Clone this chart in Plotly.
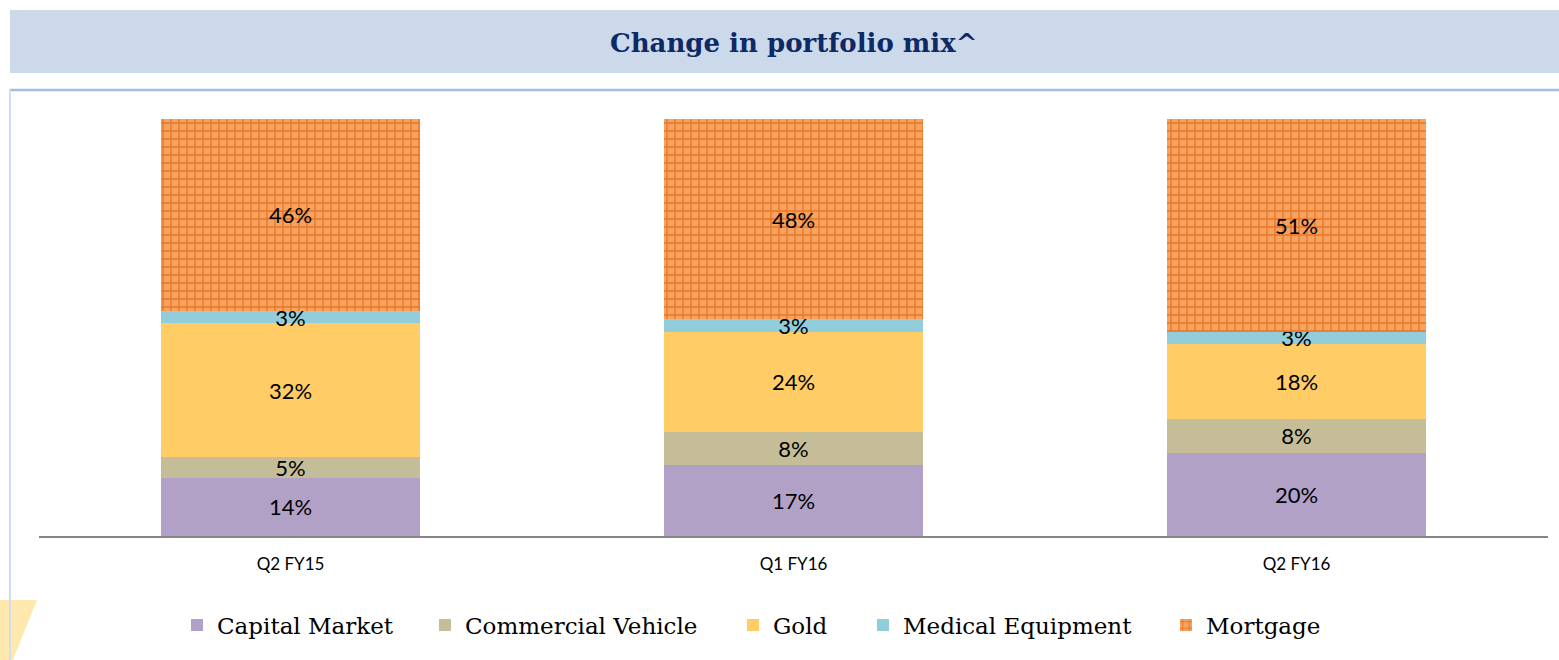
import plotly.graph_objects as go

categories = ["Q2 FY15", "Q1 FY16", "Q2 FY16"]
capital_market = [14, 17, 20]
commercial_vehicle = [5, 8, 8]
gold = [32, 24, 18]
medical_equipment = [3, 3, 3]
mortgage = [46, 48, 51]

series_names = ["Capital Market", "Commercial Vehicle", "Gold", "Medical Equipment", "Mortgage"]
series_values = [capital_market, commercial_vehicle, gold, medical_equipment, mortgage]
series_colors = ["#B2A1C7", "#C4BD97", "#FFCC66", "#92CDDC", None]
legend_text_x = [217, 465, 773, 903, 1206]  # pixel start of each legend label

W, H = 1559, 660
L, R, T, B = 39, 11, 119, 124
PW, PH = W - L - R, H - T - B


def px(x):
    return (x - L) / PW


def py(y):
    return (H - B - y) / PH


fig = go.Figure()
legend_layouts = {}
for i, (name, vals, color) in enumerate(zip(series_names, series_values, series_colors)):
    if color is None:
        marker = dict(color="#F29A50",
                      pattern=dict(shape="+", fgcolor="#EB7422", bgcolor="#F4A460",
                                   size=8, solidity=0.3, fillmode="replace"),
                      line=dict(width=0))
    else:
        marker = dict(color=color, line=dict(width=0))
    lg = "legend" if i == 0 else f"legend{i + 1}"
    fig.add_trace(go.Bar(
        name=name, x=categories, y=vals, marker=marker, legend=lg,
        texttemplate="%{y}%", textposition="inside", insidetextanchor="middle",
        textangle=0, constraintext="none",
        textfont=dict(family="Lato, Carlito, sans-serif", size=22, color="#000000"),
        hoverinfo="skip",
    ))
    legend_layouts[lg] = dict(
        orientation="h", x=px(legend_text_x[i] - 40), xanchor="left",
        y=py(625), yanchor="middle",
        font=dict(family="DejaVu Serif, serif", size=23, color="#000000"),
        bgcolor="rgba(0,0,0,0)", borderwidth=0,
    )

shapes = [
    # title banner
    dict(type="rect", xref="paper", yref="paper", x0=px(10), x1=px(1562), y0=py(73), y1=py(10),
         fillcolor="#CCD9EA", line=dict(width=0), layer="below"),
    # yellow decoration
    dict(type="path", xref="paper", yref="paper",
         path=f"M {px(-2)} {py(600)} L {px(37)} {py(600)} L {px(12)} {py(662)} L {px(-2)} {py(662)} Z",
         fillcolor="#FFE8AE", line=dict(width=0), layer="below"),
    # chart frame (top and left lines)
    dict(type="line", xref="paper", yref="paper", x0=px(10), x1=px(1562), y0=py(90), y1=py(90),
         line=dict(color="#A3BCE6", width=2.5)),
    dict(type="line", xref="paper", yref="paper", x0=px(10), x1=px(10), y0=py(89), y1=py(662),
         line=dict(color="#CFDCF2", width=2)),
]

fig.update_layout(
    width=W, height=H,
    margin=dict(l=L, r=R, t=T, b=B, autoexpand=False),
    barmode="stack", bargap=0.487,
    paper_bgcolor="white", plot_bgcolor="white",
    uniformtext=dict(minsize=22, mode="show"),
    shapes=shapes,
    annotations=[dict(
        text="<b>Change in portfolio mix^</b>", xref="paper", yref="paper",
        x=px(794), y=py(43), xanchor="center", yanchor="middle", showarrow=False,
        font=dict(family="DejaVu Serif, serif", size=26, color="#0E2A66"),
    )],
    xaxis=dict(showline=True, linecolor="#868686", linewidth=2, ticks="",
               tickfont=dict(family="Lato, Carlito, sans-serif", size=17, color="#000000"),
               ticklabelstandoff=12, showgrid=False, zeroline=False, fixedrange=True),
    yaxis=dict(range=[0, 100], visible=False, showgrid=False, zeroline=False, fixedrange=True),
    showlegend=True,
    **legend_layouts,
)

fig.write_html("out.html", config={"displayModeBar": False},
               post_script="document.body.style.margin='0';document.body.style.overflow='hidden';")
